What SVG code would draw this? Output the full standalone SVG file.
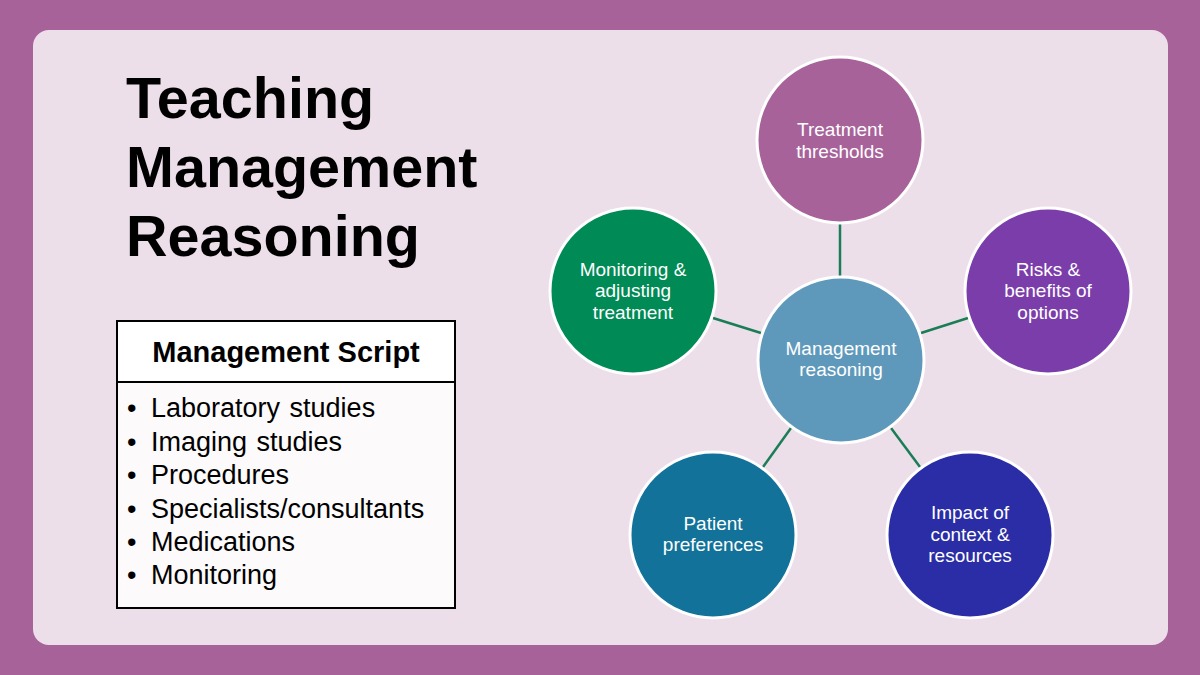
<svg xmlns="http://www.w3.org/2000/svg" width="1200" height="675" viewBox="0 0 1200 675">
<style>
.node{stroke:#ffffff;stroke-width:3}
.lbl{font-family:"Liberation Sans",Arial,sans-serif;font-size:19px;fill:#ffffff;text-anchor:middle}
.conn{stroke:#1B7D56;stroke-width:2.5;fill:none}
.title{font-family:"Liberation Sans",Arial,sans-serif;font-size:57.5px;font-weight:bold;fill:#000000}
.item{font-family:"Liberation Sans",Arial,sans-serif;font-size:27px;fill:#000000;word-spacing:2px}
</style>
<rect x="0" y="0" width="1200" height="675" fill="#A8629A"/>
<rect x="33" y="30" width="1135" height="615" rx="16" fill="#EDDFEA"/>
<g id="title">
<text class="title" x="126" y="118">Teaching</text>
<text class="title" x="126" y="187">Management</text>
<text class="title" x="126" y="256">Reasoning</text>
</g>
<g id="script-box">
<rect x="117" y="321" width="338" height="287" fill="#FCFAFB" stroke="#000000" stroke-width="2"/>
<rect x="117" y="321" width="338" height="61" fill="#FFFFFF" stroke="#000000" stroke-width="2"/>
<text x="286" y="362" font-family="Liberation Sans, Arial, sans-serif" font-size="29" font-weight="bold" text-anchor="middle">Management Script</text>
<text class="item" x="127" y="417">•</text><text class="item" x="151" y="417">Laboratory studies</text>
<text class="item" x="127" y="451">•</text><text class="item" x="151" y="451">Imaging studies</text>
<text class="item" x="127" y="484">•</text><text class="item" x="151" y="484">Procedures</text>
<text class="item" x="127" y="518">•</text><text class="item" x="151" y="518">Specialists/consultants</text>
<text class="item" x="127" y="551">•</text><text class="item" x="151" y="551">Medications</text>
<text class="item" x="127" y="584">•</text><text class="item" x="151" y="584">Monitoring</text>
</g>
<g id="connectors">
<line class="conn" x1="840" y1="223" x2="840" y2="277"/>
<line class="conn" x1="761" y1="333" x2="713" y2="318"/>
<line class="conn" x1="921" y1="333" x2="968" y2="318"/>
<line class="conn" x1="791" y1="428" x2="763" y2="467"/>
<line class="conn" x1="891" y1="428" x2="920" y2="467"/>
</g>
<g id="center">
<circle class="node" cx="841" cy="360" r="83" fill="#5E99BB"/>
<text class="lbl" x="841" y="355">Management</text>
<text class="lbl" x="841" y="376">reasoning</text>
</g>
<g id="thresholds">
<circle class="node" cx="840" cy="140" r="83" fill="#A8629A"/>
<text class="lbl" x="840" y="136">Treatment</text>
<text class="lbl" x="840" y="158">thresholds</text>
</g>
<g id="risks">
<circle class="node" cx="1048" cy="291" r="83" fill="#7B3DAA"/>
<text class="lbl" x="1048" y="276">Risks &amp;</text>
<text class="lbl" x="1048" y="297">benefits of</text>
<text class="lbl" x="1048" y="319">options</text>
</g>
<g id="impact">
<circle class="node" cx="970" cy="535" r="83" fill="#2A2DA5"/>
<text class="lbl" x="970" y="519">Impact of</text>
<text class="lbl" x="970" y="541">context &amp;</text>
<text class="lbl" x="970" y="562">resources</text>
</g>
<g id="preferences">
<circle class="node" cx="713" cy="535" r="83" fill="#127299"/>
<text class="lbl" x="713" y="530">Patient</text>
<text class="lbl" x="713" y="551">preferences</text>
</g>
<g id="monitoring">
<circle class="node" cx="633" cy="291" r="83" fill="#008A55"/>
<text class="lbl" x="633" y="276">Monitoring &amp;</text>
<text class="lbl" x="633" y="297">adjusting</text>
<text class="lbl" x="633" y="319">treatment</text>
</g>
</svg>
